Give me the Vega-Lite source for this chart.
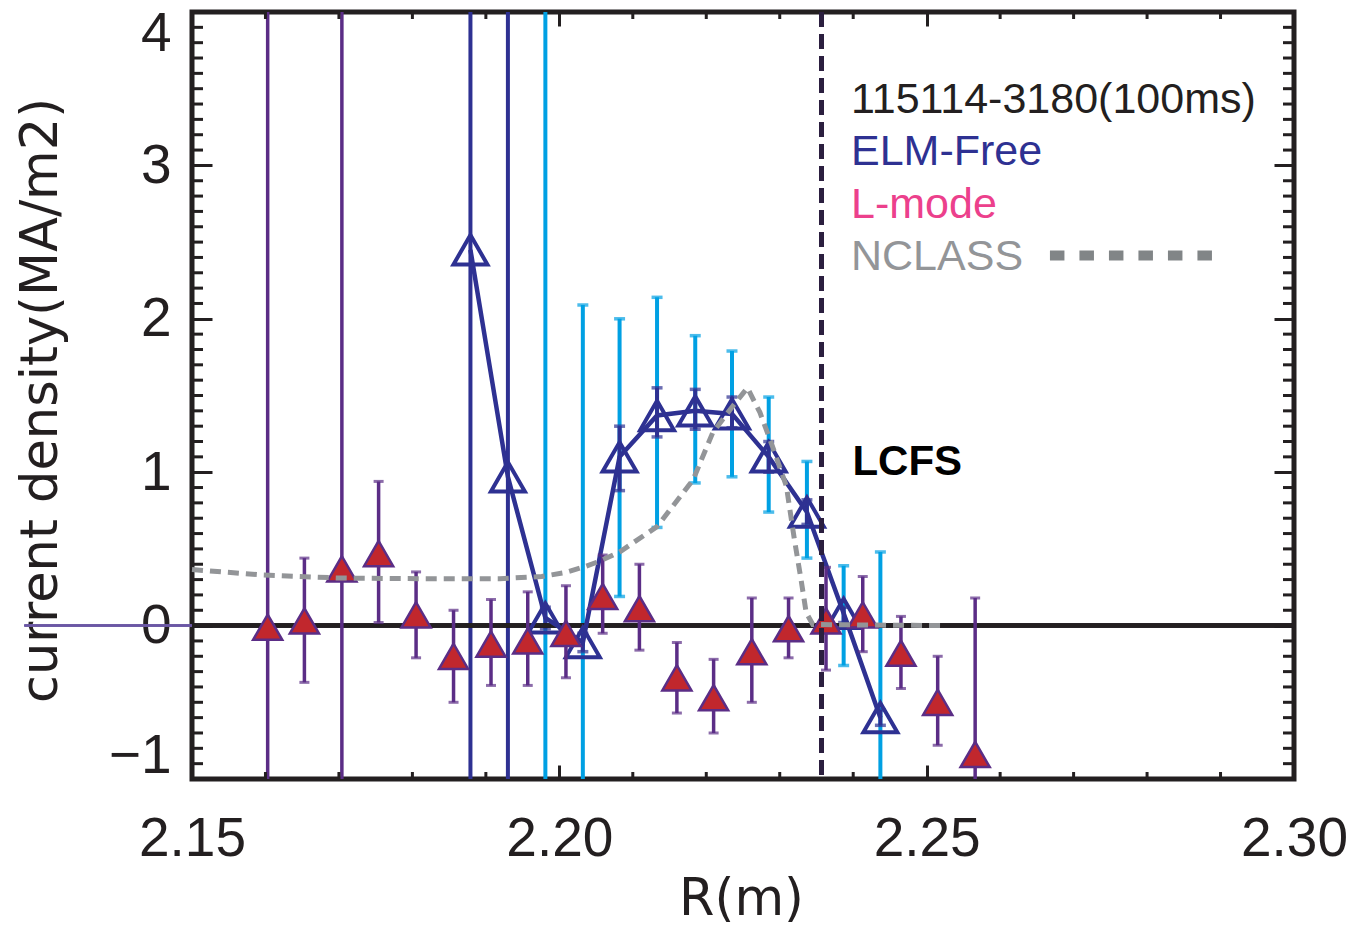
{
  "$schema": "https://vega.github.io/schema/vega-lite/v6.json",
  "autosize": {"type": "none"},
  "padding": {"left": 192, "top": 12, "right": 60, "bottom": 151},
  "width": 1102,
  "height": 767,
  "background": "white",
  "config": {
    "view": {"stroke": "#231F20", "strokeWidth": 5},
    "axis": {
      "grid": false, "domain": false, "tickColor": "#231F20", "tickWidth": 3, "zindex": 1,
      "labelFont": "Liberation Sans", "labelFontSize": 55, "labelColor": "#231F20",
      "titleFont": "DejaVu Sans", "titleFontSize": 51, "titleFontWeight": "normal", "titleColor": "#231F20"
    }
  },
  "datasets": {
    "elm": [
      {"x": 2.1879, "y": 2.45}, {"x": 2.1930, "y": 0.97}, {"x": 2.1981, "y": 0.05}, {"x": 2.2032, "y": -0.11},
      {"x": 2.2082, "y": 1.10}, {"x": 2.2133, "y": 1.37}, {"x": 2.2185, "y": 1.40}, {"x": 2.2235, "y": 1.38},
      {"x": 2.2285, "y": 1.10}, {"x": 2.2337, "y": 0.74}, {"x": 2.2387, "y": 0.08}, {"x": 2.2437, "y": -0.60}
    ],
    "elmLight": [
      {"x": 2.1981, "lo": -1.5, "hi": 5}, {"x": 2.2032, "lo": -1.5, "hi": 2.09}, {"x": 2.2082, "lo": 0.19, "hi": 2.00},
      {"x": 2.2133, "lo": 0.64, "hi": 2.14}, {"x": 2.2185, "lo": 0.93, "hi": 1.89}, {"x": 2.2235, "lo": 0.97, "hi": 1.79},
      {"x": 2.2285, "lo": 0.74, "hi": 1.49}, {"x": 2.2337, "lo": 0.44, "hi": 1.07}, {"x": 2.2387, "lo": -0.26, "hi": 0.39},
      {"x": 2.2437, "lo": -1.5, "hi": 0.48}
    ],
    "elmDark": [
      {"x": 2.1879, "lo": -1.5, "hi": 5}, {"x": 2.1930, "lo": -1.5, "hi": 5}, {"x": 2.1981, "lo": -0.02, "hi": 0.12},
      {"x": 2.2032, "lo": -0.17, "hi": -0.05}, {"x": 2.2082, "lo": 0.88, "hi": 1.30}, {"x": 2.2133, "lo": 1.23, "hi": 1.55},
      {"x": 2.2185, "lo": 1.28, "hi": 1.54}, {"x": 2.2235, "lo": 1.29, "hi": 1.49}, {"x": 2.2285, "lo": 1.00, "hi": 1.20},
      {"x": 2.2337, "lo": 0.66, "hi": 0.82}, {"x": 2.2387, "lo": 0.02, "hi": 0.12}, {"x": 2.2437, "lo": -0.65, "hi": -0.55}
    ],
    "lmode": [
      {"x": 2.1603, "y": -0.01, "lo": -1.5, "hi": 5},
      {"x": 2.1653, "y": 0.03, "lo": -0.37, "hi": 0.44},
      {"x": 2.1704, "y": 0.37, "lo": -1.5, "hi": 5},
      {"x": 2.1754, "y": 0.47, "lo": 0.02, "hi": 0.94},
      {"x": 2.1805, "y": 0.07, "lo": -0.21, "hi": 0.35},
      {"x": 2.1856, "y": -0.20, "lo": -0.50, "hi": 0.10},
      {"x": 2.1907, "y": -0.12, "lo": -0.39, "hi": 0.17},
      {"x": 2.1957, "y": -0.10, "lo": -0.39, "hi": 0.22},
      {"x": 2.2009, "y": -0.05, "lo": -0.34, "hi": 0.26},
      {"x": 2.2059, "y": 0.19, "lo": -0.05, "hi": 0.46},
      {"x": 2.2109, "y": 0.11, "lo": -0.16, "hi": 0.40},
      {"x": 2.2160, "y": -0.34, "lo": -0.57, "hi": -0.11},
      {"x": 2.2210, "y": -0.47, "lo": -0.70, "hi": -0.22},
      {"x": 2.2262, "y": -0.17, "lo": -0.50, "hi": 0.18},
      {"x": 2.2312, "y": -0.02, "lo": -0.21, "hi": 0.18},
      {"x": 2.2363, "y": 0.03, "lo": -0.29, "hi": 0.38},
      {"x": 2.2413, "y": 0.07, "lo": -0.17, "hi": 0.32},
      {"x": 2.2465, "y": -0.18, "lo": -0.41, "hi": 0.06},
      {"x": 2.2515, "y": -0.50, "lo": -0.78, "hi": -0.20},
      {"x": 2.2566, "y": -0.84, "lo": -1.5, "hi": 0.18}
    ],
    "nclass": [
      {"x": 2.1500, "y": 0.365}, {"x": 2.1597, "y": 0.33}, {"x": 2.1701, "y": 0.31}, {"x": 2.1810, "y": 0.306},
      {"x": 2.1919, "y": 0.306}, {"x": 2.1976, "y": 0.32}, {"x": 2.2007, "y": 0.345}, {"x": 2.2032, "y": 0.38},
      {"x": 2.2055, "y": 0.42}, {"x": 2.2082, "y": 0.48}, {"x": 2.2133, "y": 0.645}, {"x": 2.2182, "y": 0.95},
      {"x": 2.2209, "y": 1.26}, {"x": 2.2236, "y": 1.43}, {"x": 2.2256, "y": 1.55}, {"x": 2.2273, "y": 1.39},
      {"x": 2.2290, "y": 1.17}, {"x": 2.2309, "y": 0.91}, {"x": 2.2320, "y": 0.56}, {"x": 2.2329, "y": 0.30},
      {"x": 2.2336, "y": 0.085}, {"x": 2.2345, "y": 0.007}, {"x": 2.2521, "y": 0.0}
    ],
    "xMinor": [{"v": 2.16}, {"v": 2.17}, {"v": 2.18}, {"v": 2.19}, {"v": 2.21}, {"v": 2.22}, {"v": 2.23}, {"v": 2.24}, {"v": 2.26}, {"v": 2.27}, {"v": 2.28}, {"v": 2.29}],
    "yMinor": [
      {"v": -0.9}, {"v": -0.8}, {"v": -0.7}, {"v": -0.6}, {"v": -0.5}, {"v": -0.4}, {"v": -0.3}, {"v": -0.2}, {"v": -0.1},
      {"v": 0.1}, {"v": 0.2}, {"v": 0.3}, {"v": 0.4}, {"v": 0.5}, {"v": 0.6}, {"v": 0.7}, {"v": 0.8}, {"v": 0.9},
      {"v": 1.1}, {"v": 1.2}, {"v": 1.3}, {"v": 1.4}, {"v": 1.5}, {"v": 1.6}, {"v": 1.7}, {"v": 1.8}, {"v": 1.9},
      {"v": 2.1}, {"v": 2.2}, {"v": 2.3}, {"v": 2.4}, {"v": 2.5}, {"v": 2.6}, {"v": 2.7}, {"v": 2.8}, {"v": 2.9},
      {"v": 3.1}, {"v": 3.2}, {"v": 3.3}, {"v": 3.4}, {"v": 3.5}, {"v": 3.6}, {"v": 3.7}, {"v": 3.8}, {"v": 3.9}
    ]
  },
  "resolve": {"axis": {"x": "independent", "y": "independent"}},
  "layer": [
    {
      "data": {"name": "elmLight"},
      "mark": {"type": "errorbar", "orient": "vertical", "clip": true, "color": "#00A0E3", "thickness": 4, "ticks": {"size": 11, "thickness": 3.5}},
      "encoding": {
        "x": {"field": "x", "type": "quantitative", "scale": {"domain": [2.15, 2.30], "nice": false, "zero": false},
          "axis": {"orient": "bottom", "values": [2.15, 2.20, 2.25, 2.30], "format": ".2f", "tickSize": -14, "labelPadding": 47, "labelFlush": false,
            "title": "R(m)", "titleX": 549, "titleY": 135, "titleBaseline": "alphabetic", "titleAlign": "center"}},
        "y": {"field": "lo", "type": "quantitative", "scale": {"domain": [-1, 4], "nice": false, "zero": false},
          "axis": {"orient": "left", "values": [-1, 0, 1, 2, 3, 4], "format": "d", "tickSize": -20, "labelPadding": 41, "labelFlush": true, "labelFlushOffset": 5,
            "title": "current density(MA/m2)", "titleX": -136, "titleY": 388, "titleAngle": 270, "titleBaseline": "alphabetic", "titleAlign": "center"}},
        "y2": {"field": "hi"}
      }
    },
    {
      "data": {"name": "elmDark"},
      "mark": {"type": "errorbar", "orient": "vertical", "clip": true, "color": "#2E3192", "thickness": 4, "ticks": {"size": 11, "thickness": 3.5}},
      "encoding": {
        "x": {"field": "x", "type": "quantitative", "axis": null},
        "y": {"field": "lo", "type": "quantitative", "axis": null},
        "y2": {"field": "hi"}
      }
    },
    {
      "data": {"name": "elm"},
      "mark": {"type": "rule", "color": "#231F20", "strokeWidth": 3.5},
      "encoding": {"y": {"datum": 0, "axis": null}}
    },
    {
      "data": {"name": "elm"},
      "mark": {"type": "rule", "color": "#6B57A5", "strokeWidth": 1.5, "clip": false},
      "encoding": {"x": {"datum": 2.1272, "axis": null}, "x2": {"datum": 2.15}, "y": {"datum": 0, "axis": null}}
    },
    {
      "data": {"name": "elm"},
      "mark": {"type": "line", "color": "#2E3192", "strokeWidth": 4.5},
      "encoding": {
        "x": {"field": "x", "type": "quantitative",
          "axis": {"orient": "top", "values": [2.15, 2.20, 2.25, 2.30], "labels": false, "tickSize": -14, "title": null}},
        "y": {"field": "y", "type": "quantitative",
          "axis": {"orient": "right", "values": [-1, 0, 1, 2, 3, 4], "labels": false, "tickSize": -20, "title": null}}
      }
    },
    {
      "data": {"name": "elm"},
      "mark": {"type": "point", "shape": "triangle-up", "filled": false, "color": "#2E3192", "strokeWidth": 4, "size": 1150, "opacity": 1},
      "encoding": {
        "x": {"field": "x", "type": "quantitative", "axis": null},
        "y": {"field": "y", "type": "quantitative", "axis": null}
      }
    },
    {
      "data": {"name": "lmode"},
      "mark": {"type": "errorbar", "orient": "vertical", "clip": true, "color": "#5B2D86", "thickness": 3.5, "ticks": {"size": 10, "thickness": 3}},
      "encoding": {
        "x": {"field": "x", "type": "quantitative", "axis": null},
        "y": {"field": "lo", "type": "quantitative", "axis": null},
        "y2": {"field": "hi"}
      }
    },
    {
      "data": {"name": "lmode"},
      "mark": {"type": "point", "shape": "triangle-up", "filled": true, "fill": "#C1272D", "stroke": "#5B2D86", "strokeWidth": 2.5, "size": 850, "opacity": 1},
      "encoding": {
        "x": {"field": "x", "type": "quantitative", "axis": null},
        "y": {"field": "y", "type": "quantitative", "axis": null}
      }
    },
    {
      "data": {"name": "nclass"},
      "mark": {"type": "line", "color": "#939598", "strokeWidth": 5, "strokeDash": [11, 7]},
      "encoding": {
        "x": {"field": "x", "type": "quantitative", "axis": null},
        "y": {"field": "y", "type": "quantitative", "axis": null}
      }
    },
    {
      "data": {"name": "elm"},
      "mark": {"type": "rule", "color": "#2B1F3F", "strokeWidth": 4, "strokeDash": [15, 7]},
      "encoding": {"x": {"datum": 2.2357, "axis": null}}
    },
    {
      "data": {"values": [{}]},
      "mark": {"type": "text", "text": "115114-3180(100ms)", "font": "Liberation Sans", "fontSize": 43, "color": "#231F20", "align": "left", "baseline": "alphabetic"},
      "encoding": {"x": {"datum": 2.2397, "axis": null}, "y": {"datum": 3.344, "axis": null}}
    },
    {
      "data": {"values": [{}]},
      "mark": {"type": "text", "text": "ELM-Free", "font": "Liberation Sans", "fontSize": 43, "color": "#2E3192", "align": "left", "baseline": "alphabetic"},
      "encoding": {"x": {"datum": 2.2397, "axis": null}, "y": {"datum": 3.005, "axis": null}}
    },
    {
      "data": {"values": [{}]},
      "mark": {"type": "text", "text": "L-mode", "font": "Liberation Sans", "fontSize": 43, "color": "#EC408C", "align": "left", "baseline": "alphabetic"},
      "encoding": {"x": {"datum": 2.2397, "axis": null}, "y": {"datum": 2.660, "axis": null}}
    },
    {
      "data": {"values": [{}]},
      "mark": {"type": "text", "text": "NCLASS", "font": "Liberation Sans", "fontSize": 43, "color": "#939598", "align": "left", "baseline": "alphabetic"},
      "encoding": {"x": {"datum": 2.2397, "axis": null}, "y": {"datum": 2.321, "axis": null}}
    },
    {
      "data": {"values": [{}]},
      "mark": {"type": "rule", "color": "#818587", "strokeWidth": 10, "strokeDash": [14.5, 15], "strokeCap": "butt"},
      "encoding": {"x": {"datum": 2.26678, "axis": null}, "x2": {"datum": 2.28898}, "y": {"datum": 2.412, "axis": null}}
    },
    {
      "data": {"values": [{}]},
      "mark": {"type": "text", "text": "LCFS", "font": "Liberation Sans", "fontWeight": "bold", "fontSize": 42, "color": "#000000", "align": "left", "baseline": "alphabetic"},
      "encoding": {"x": {"datum": 2.2399, "axis": null}, "y": {"datum": 0.984, "axis": null}}
    },
    {
      "data": {"name": "yMinor"},
      "mark": {"type": "rule", "color": "#231F20", "strokeWidth": 3},
      "encoding": {"y": {"field": "v", "type": "quantitative", "axis": null}, "x": {"datum": 2.15, "axis": null}, "x2": {"datum": 2.1515}}
    },
    {
      "data": {"name": "yMinor"},
      "mark": {"type": "rule", "color": "#231F20", "strokeWidth": 3},
      "encoding": {"y": {"field": "v", "type": "quantitative", "axis": null}, "x": {"datum": 2.2985, "axis": null}, "x2": {"datum": 2.30}}
    },
    {
      "data": {"name": "xMinor"},
      "mark": {"type": "rule", "color": "#231F20", "strokeWidth": 3},
      "encoding": {"x": {"field": "v", "type": "quantitative", "axis": null}, "y": {"datum": -1, "axis": null}, "y2": {"datum": -0.9544}}
    },
    {
      "data": {"name": "xMinor"},
      "mark": {"type": "rule", "color": "#231F20", "strokeWidth": 3},
      "encoding": {"x": {"field": "v", "type": "quantitative", "axis": null}, "y": {"datum": 3.9544, "axis": null}, "y2": {"datum": 4}}
    }
  ]
}
